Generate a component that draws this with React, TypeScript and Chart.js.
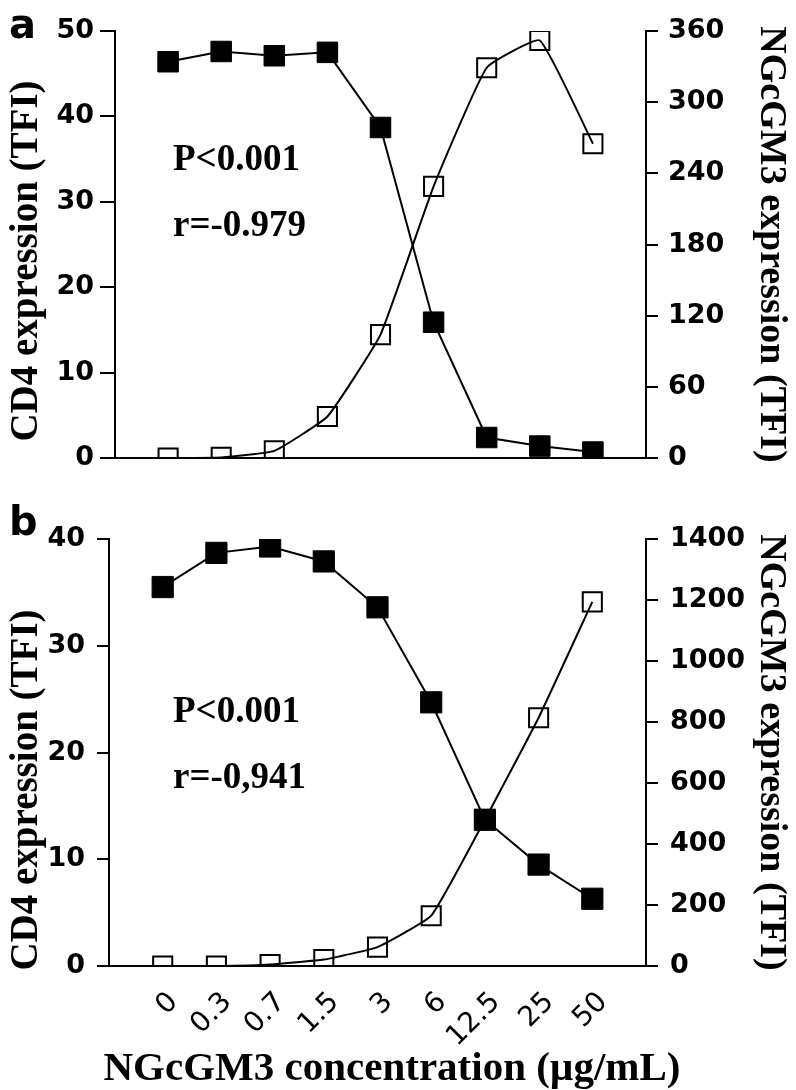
import React, { useEffect, useRef } from 'react';
import { Chart, registerables } from 'chart.js';

Chart.register(...registerables);

// ---- data ----
const concentrations = ['0', '0.3', '0.7', '1.5', '3', '6', '12.5', '25', '50'];

const cd4PanelA = [46.4, 47.6, 47.1, 47.5, 38.7, 15.9, 2.4, 1.4, 0.7];
const ngcPanelA = [0, 0.5, 6, 35, 104, 229, 329, 352, 265];

const cd4PanelB = [35.5, 38.7, 39.3, 37.9, 33.6, 24.7, 13.7, 9.5, 6.3];
const ngcPanelB = [0, 0, 5, 21, 62, 165, 480, 814, 1194];

const leftTicksA = [0, 50, 10];
const rightTicksA = [0, 360, 60];
const leftTicksB = [0, 40, 10];
const rightTicksB = [0, 1400, 200];

const statsA = ['P<0.001', 'r=-0.979'];
const statsB = ['P<0.001', 'r=-0,941'];

const SERIF = '"Liberation Serif", "Times New Roman", serif';
const SANS = '"DejaVu Sans", "Liberation Sans", sans-serif';

const W = 796;

type TextItem = {
  text: string;
  x: number;
  y: number;
  font: string;
  align?: CanvasTextAlign;
  rotate?: number;
};

function makeTextPlugin(items: TextItem[]) {
  return {
    id: 'panelText',
    afterDraw(chart: any) {
      const ctx = chart.ctx as CanvasRenderingContext2D;
      items.forEach((it) => {
        ctx.save();
        ctx.font = it.font;
        ctx.fillStyle = '#000';
        ctx.textAlign = it.align || 'left';
        ctx.textBaseline = 'alphabetic';
        ctx.translate(it.x, it.y);
        if (it.rotate) ctx.rotate(it.rotate);
        ctx.fillText(it.text, 0, 0);
        ctx.restore();
      });
    },
  };
}

type PanelProps = {
  height: number;
  cd4: number[];
  ngc: number[];
  leftTicks: number[];
  rightTicks: number[];
  top: number;
  bottom: number;
  left: number;
  right: number;
  leftTick: number;
  leftPad: number;
  rightTick: number;
  rightPad: number;
  showX: boolean;
  filledR: number;
  openR: number;
  texts: TextItem[];
};

function Panel(p: PanelProps) {
  const ref = useRef<HTMLCanvasElement | null>(null);

  useEffect(() => {
    if (!ref.current) return;
    const chart = new Chart(ref.current, {
      type: 'line',
      data: {
        datasets: [
          {
            label: 'CD4 expression (TFI)',
            data: p.cd4.map((y, i) => ({ x: i, y })),
            yAxisID: 'y',
            borderColor: '#000',
            borderWidth: 2,
            pointStyle: 'rect',
            pointRadius: p.filledR,
            pointBackgroundColor: '#000',
            pointBorderColor: '#000',
            pointBorderWidth: 1,
            tension: 0,
          },
          {
            label: 'NGcGM3 expression (TFI)',
            data: p.ngc.map((y, i) => ({ x: i, y })),
            yAxisID: 'y2',
            borderColor: '#000',
            borderWidth: 2,
            pointStyle: 'rect',
            pointRadius: p.openR,
            pointBackgroundColor: 'rgba(0,0,0,0)',
            pointBorderColor: '#000',
            pointBorderWidth: 2,
            tension: 0.12,
          },
        ],
      },
      options: {
        responsive: false,
        animation: false,
        events: [],
        layout: { padding: { top: p.top, left: 0, right: 0, bottom: 0 } },
        plugins: {
          legend: { display: false },
          tooltip: { enabled: false },
          title: { display: false },
        },
        scales: {
          x: {
            type: 'linear',
            position: 'bottom',
            min: -1,
            max: concentrations.length,
            grid: { display: false, drawTicks: false },
            border: { display: true, color: '#000', width: 2 },
            ticks: {
              display: p.showX,
              autoSkip: false,
              minRotation: 45,
              maxRotation: 45,
              padding: 20,
              labelOffset: 11,
              color: '#000',
              font: { family: SANS, size: 28 },
              callback: (v: any) => concentrations[v as number] ?? '',
            },
            afterBuildTicks: (axis: any) => {
              axis.ticks = concentrations.map((_, i) => ({ value: i }));
            },
            afterFit: (axis: any) => {
              axis.height = p.height - p.bottom;
            },
          },
          y: {
            position: 'left',
            min: p.leftTicks[0],
            max: p.leftTicks[1],
            ticks: {
              stepSize: p.leftTicks[2],
              padding: p.leftPad,
              color: '#000',
              font: { family: SANS, size: 27, weight: 'bold' },
              callback: (v: any) => String(v),
            },
            grid: {
              drawOnChartArea: false,
              drawTicks: true,
              tickLength: p.leftTick,
              color: '#000',
              lineWidth: 2,
            },
            border: { color: '#000', width: 2 },
            afterFit: (axis: any) => {
              axis.width = p.left;
            },
          },
          y2: {
            position: 'right',
            min: p.rightTicks[0],
            max: p.rightTicks[1],
            ticks: {
              stepSize: p.rightTicks[2],
              padding: p.rightPad,
              color: '#000',
              font: { family: SANS, size: 27, weight: 'bold' },
              callback: (v: any) => String(v),
            },
            grid: {
              drawOnChartArea: false,
              drawTicks: true,
              tickLength: p.rightTick,
              color: '#000',
              lineWidth: 2,
            },
            border: { color: '#000', width: 2 },
            title: {
              display: true,
              text: 'NGcGM3 expression (TFI)',
              color: '#000',
              font: { family: SERIF, size: 38, weight: 'bold' },
              padding: { top: 2, bottom: 0 },
            },
            afterFit: (axis: any) => {
              axis.width = W - p.right;
            },
          },
        },
      } as any,
      plugins: [makeTextPlugin(p.texts)],
    });
    return () => chart.destroy();
  }, []);

  return <canvas ref={ref} width={W} height={p.height} style={{ display: 'block' }} />;
}

export default function App() {
  const titleFont = `bold 39px ${SERIF}`;
  const statFont = `bold 37px ${SERIF}`;
  const letterFont = `bold 40px ${SANS}`;

  const textsA: TextItem[] = [
    { text: 'a', x: 9, y: 38, font: letterFont },
    { text: statsA[0], x: 173, y: 170, font: statFont },
    { text: statsA[1], x: 173, y: 236, font: statFont },
    { text: 'CD4 expression (TFI)', x: 37, y: 261, font: titleFont, align: 'center', rotate: -Math.PI / 2 },
  ];
  const textsB: TextItem[] = [
    { text: 'b', x: 9, y: 45, font: letterFont },
    { text: statsB[0], x: 173, y: 232, font: statFont },
    { text: statsB[1], x: 173, y: 298, font: statFont },
    { text: 'CD4 expression (TFI)', x: 37, y: 300, font: titleFont, align: 'center', rotate: -Math.PI / 2 },
    { text: 'NGcGM3 concentration (µg/mL)', x: 392, y: 590, font: `bold 41px ${SERIF}`, align: 'center' },
  ];

  return (
    <div style={{ position: 'absolute', left: 0, top: 0, width: W, height: 1090, background: '#fff' }}>
      <Panel
        height={490}
        cd4={cd4PanelA}
        ngc={ngcPanelA}
        leftTicks={leftTicksA}
        rightTicks={rightTicksA}
        top={31}
        bottom={458}
        left={115}
        right={646}
        leftTick={15}
        leftPad={6}
        rightTick={12}
        rightPad={10}
        showX={false}
        filledR={14.5}
        openR={13.5}
        texts={textsA}
      />
      <Panel
        height={600}
        cd4={cd4PanelB}
        ngc={ngcPanelB}
        leftTicks={leftTicksB}
        rightTicks={rightTicksB}
        top={49}
        bottom={476}
        left={109}
        right={646}
        leftTick={12}
        leftPad={12}
        rightTick={12}
        rightPad={12}
        showX={true}
        filledR={15}
        openR={13.5}
        texts={textsB}
      />
    </div>
  );
}
